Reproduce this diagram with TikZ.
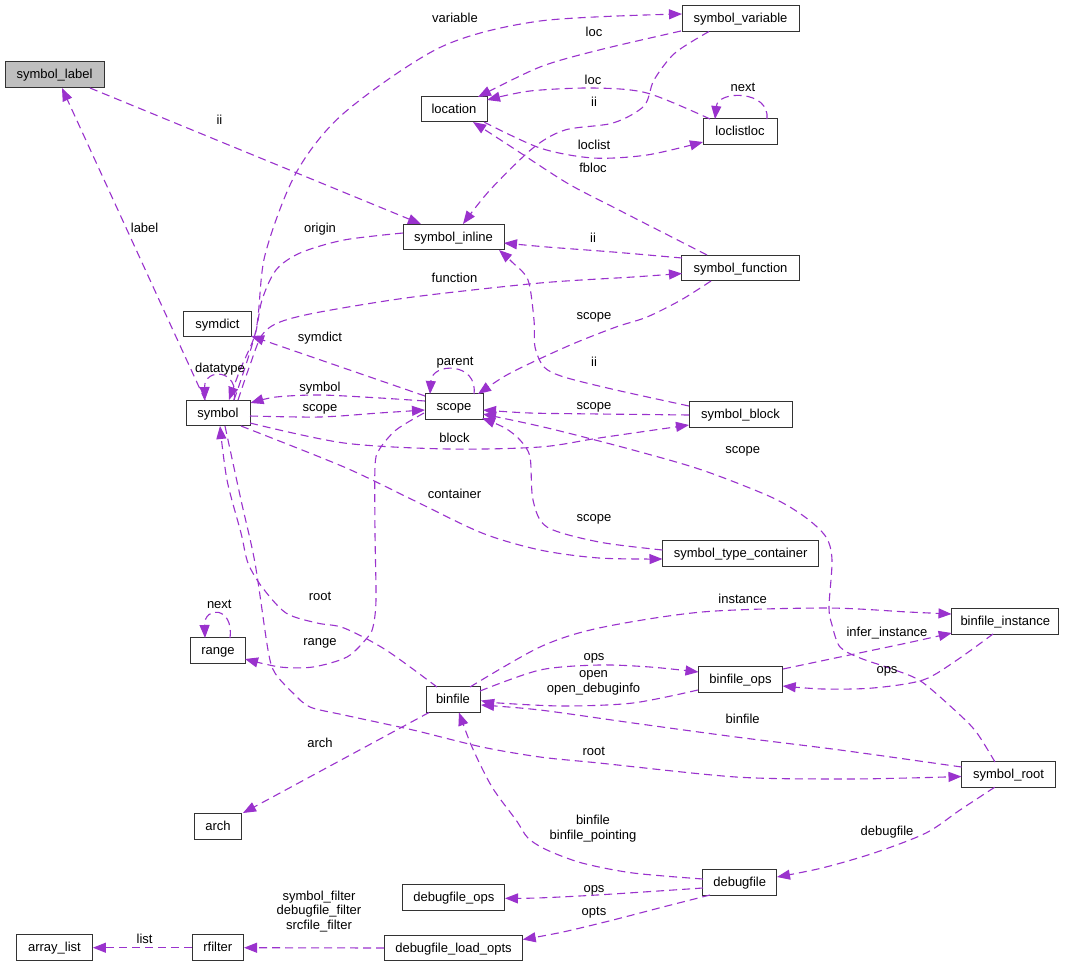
\documentclass[tikz,border=0pt]{standalone}
\usepackage{fontspec}
\setmainfont{Liberation Sans}
\usetikzlibrary{arrows.meta,calc}
\definecolor{orchid}{HTML}{9A32CD}
\definecolor{greyfill}{HTML}{BFBFBF}
\newcommand{\diagfont}{\fontsize{13}{14.5}\selectfont}
\tikzset{
  cls/.style={draw=black!80, line width=1pt, fill=white, minimum height=25.6pt,
    inner sep=0pt, text height=10.7pt, text depth=2.7pt, font=\diagfont},
  edge/.style={draw=orchid, line width=1.1pt, dash pattern=on 8pt off 5pt,
    -{Triangle[length=13pt,width=10pt]}},
  lbl/.style={inner sep=0pt, text height=10.7pt, text depth=2.7pt, font=\diagfont, align=center},
}
\begin{document}
\begin{tikzpicture}[x=1pt,y=-1pt]
\useasboundingbox (0,0) rectangle (1069,967);
\fill[white] (0,0) rectangle (1069,967);

% nodes
\node[cls, fill=greyfill, minimum width=99pt] (symLabel) at (54.5,74.5) {symbol\_label};
\node[cls, minimum width=117pt] (symVariable) at (740.5,18.5) {symbol\_variable};
\node[cls, minimum width=66pt] (location) at (454,109) {location};
\node[cls, minimum width=74pt] (loclistloc) at (740,131.5) {loclistloc};
\node[cls, minimum width=101pt] (symInline) at (453.5,237) {symbol\_inline};
\node[cls, minimum width=117.6pt] (symFunction) at (740.5,268) {symbol\_function};
\node[cls, minimum width=68pt] (symdict) at (217.5,324) {symdict};
\node[cls, minimum width=64pt] (symbol) at (218,413) {symbol};
\node[cls, minimum width=58pt] (scope) at (454,406.7) {scope};
\node[cls, minimum width=103pt] (symBlock) at (740.5,414.3) {symbol\_block};
\node[cls, minimum width=156.5pt] (symTypeContainer) at (740.7,553.3) {symbol\_type\_container};
\node[cls, minimum width=107pt] (binfileInstance) at (1005.3,621.3) {binfile\_instance};
\node[cls, minimum width=54.6pt] (range) at (218,650.5) {range};
\node[cls, minimum width=54pt] (binfile) at (453,699.7) {binfile};
\node[cls, minimum width=84pt] (binfileOps) at (740.5,679.7) {binfile\_ops};
\node[cls, minimum width=94pt] (symRoot) at (1008.5,774.5) {symbol\_root};
\node[cls, minimum width=47pt] (arch) at (218,826.5) {arch};
\node[cls, minimum width=74pt] (debugfile) at (739.7,882.5) {debugfile};
\node[cls, minimum width=102pt] (debugfileOps) at (453.8,897.2) {debugfile\_ops};
\node[cls, minimum width=138pt] (debugfileLoadOpts) at (453.5,948) {debugfile\_load\_opts};
\node[cls, minimum width=51.5pt] (rfilter) at (217.8,947.7) {rfilter};
\node[cls, minimum width=76pt] (arrayList) at (54.4,947.7) {array\_list};

% edges
\draw[edge] ($(symLabel)+(35.5,13.5)$) -- ($(symInline)+(-32.5,-13)$);
\draw[edge] ($(symbol)+(-13,-13)$) -- ($(symLabel)+(7.5,13.5)$);
\draw[edge] plot[smooth] coordinates {($(symbol)+(16,-13)$) (256,330) (265,255) (296,173) (344,113) (441,47) (540,21) ($(symVariable)+(-58.5,-4.5)$)};
\draw[edge] plot[smooth] coordinates {($(symVariable)+(-59.5,12.5)$) (599,50) (540,67) ($(location)+(24,-12)$)};
\draw[edge] plot[smooth] coordinates {($(loclistloc)+(-30,-12.5)$) (647,93) (593,88) (530,91) ($(location)+(33,-9)$)};
\draw[edge] ($(loclistloc)+(27,-12.5)$) .. controls (770,90) and (718,90) .. ($(loclistloc)+(-25,-12.5)$);
\draw[edge] plot[smooth] coordinates {($(symVariable)+(-31.5,13)$) (675,53) (654,80) (644,106) (613,123) (565,130) (533,148) (490,190) ($(symInline)+(9.5,-13)$)};
\draw[edge] plot[smooth] coordinates {($(location)+(30,13)$) (540,148) (593,158) (647,155) ($(loclistloc)+(-37,10.5)$)};
\draw[edge] plot[smooth] coordinates {($(symFunction)+(-33.5,-13)$) (613,207) (567,183) (513,148) ($(location)+(19,13)$)};
\draw[edge] plot[smooth] coordinates {($(symFunction)+(-58.5,-10)$) (613,252) (547,247) ($(symInline)+(50.5,6)$)};
\draw[edge] plot[smooth] coordinates {($(symInline)+(-50.5,-4)$) (344,240) (300,253) (276,270) (262,300) (255,335) (240,370) ($(symbol)+(11,-13)$)};
\draw[edge] plot[smooth] coordinates {($(symbol)+(20,-13)$) (250,365) (262,335) (280,322) (320,312) (413,297) (540,283) (633,277) ($(symFunction)+(-58.5,5.5)$)};
\draw[edge] ($(scope)+(-29,-10.7)$) -- ($(symdict)+(33.5,12)$);
\draw[edge] ($(scope)+(20,-12.7)$) .. controls (478,362) and (432,362) .. ($(scope)+(-24,-12.7)$);
\draw[edge] plot[smooth] coordinates {($(symFunction)+(-29.5,13)$) (681,300) (647,317) (616,327) (575,343) (535,361) (505,376) ($(scope)+(24,-12.7)$)};
\draw[edge] plot[smooth] coordinates {($(symBlock)+(-51.5,-8.3)$) (616,390) (564,377) (544,367) (535,347) (534,320) (528,280) (512,262) ($(symInline)+(45.5,13)$)};
\draw[edge] ($(symbol)+(16,-13)$) .. controls (240,368) and (204,368) .. ($(symbol)+(-13,-13)$);
\draw[edge] plot[smooth] coordinates {($(scope)+(-29,-5.7)$) (380,398) (320,395) (276,397) ($(symbol)+(32.5,-10)$)};
\draw[edge] plot[smooth] coordinates {($(symbol)+(32,3)$) (320,417) (379,413) ($(scope)+(-29,3.3)$)};
\draw[edge] plot[smooth] coordinates {($(symBlock)+(-51.5,0.7)$) (600,414) (530,413) ($(scope)+(29,3.3)$)};
\draw[edge] plot[smooth] coordinates {($(symbol)+(32,10)$) (344,443) (448,449) (540,447) (599,438) ($(symBlock)+(-51.5,10.7)$)};
\draw[edge] plot[smooth] coordinates {($(symRoot)+(-13.5,-12.5)$) (977,733) (960,715) (922,682) (895,670) (860,658) (840,647) (832,625) (829,607) (832,560) (826,537) (805,517) (771,497) (702,470) (633,450) (564,432) (530,424) ($(scope)+(29,7.3)$)};
\draw[edge] plot[smooth] coordinates {($(symTypeContainer)+(-78.2,-3.3)$) (599,542) (547,527) (533,500) (530,457) (520,440) (505,428) ($(scope)+(28,11.3)$)};
\draw[edge] plot[smooth] coordinates {($(symbol)+(23,13)$) (344,467) (413,500) (482,533) (540,550) (599,558) ($(symTypeContainer)+(-78.2,5.7)$)};
\draw[edge] plot[smooth] coordinates {($(binfile)+(17,-12.7)$) (540,647) (599,628) (702,612) (826,608) (908,612) ($(binfileInstance)+(-53.8,-7.3)$)};
\draw[edge] plot[smooth] coordinates {($(binfile)+(-16,-12.7)$) (386,650) (344,628) (317,623) (286,613) (262,587) (248,563) (241,533) (227,480) ($(symbol)+(2,13)$)};
\draw[edge] plot[smooth] coordinates {($(symbol)+(7,13)$) (241,500) (255,563) (268,650) (275,673) (293,693) (310,707) (344,715) (413,730) (482,747) (540,757) (599,763) (736,777) (840,779) (908,778) ($(symRoot)+(-47,2)$)};
\draw[edge] plot[smooth] coordinates {($(scope)+(-30,6.3)$) (396,430) (379,450) (375,467) (375,533) (376,600) (373,627) (367,638) (347,657) (313,667) (280,667) ($(range)+(27,8.5)$)};
\draw[edge] ($(range)+(12,-12.5)$) .. controls (234,606) and (204,606) .. ($(range)+(-13,-12.5)$);
\draw[edge] plot[smooth] coordinates {($(binfile)+(27,-8.7)$) (540,670) (599,665) (650,667) ($(binfileOps)+(-42,-7.7)$)};
\draw[edge] plot[smooth] coordinates {($(binfileOps)+(-42.5,10.3)$) (633,703) (564,706) (499,703) ($(binfile)+(28,0.8)$)};
\draw[edge] plot[smooth] coordinates {($(symRoot)+(-47,-7.5)$) (840,750) (736,737) (633,723) (540,710) ($(binfile)+(28,5.3)$)};
\draw[edge] plot[smooth] coordinates {($(binfileOps)+(42.5,-10.7)$) (840,657) (907,643) ($(binfileInstance)+(-53.6,11.7)$)};
\draw[edge] plot[smooth] coordinates {($(binfileInstance)+(-12.3,12.7)$) (957,660) (923,680) (873,688) (823,689) ($(binfileOps)+(42.2,6.3)$)};
\draw[edge] plot[smooth] coordinates {($(symRoot)+(-13.9,12.8)$) (960,810) (926,833) (874,853) (822,868) ($(debugfile)+(37.3,-5.5)$)};
\draw[edge] plot[smooth] coordinates {($(debugfile)+(-36.7,-3.5)$) (633,873) (582,863) (547,850) (528,838) (516,820) (492,787) (472,747) ($(binfile)+(6,12.8)$)};
\draw[edge] plot[smooth] coordinates {($(debugfile)+(-36.7,5.5)$) (597,895) (537,898) ($(debugfileOps)+(51.2,1.1)$)};
\draw[edge] plot[smooth] coordinates {($(debugfile)+(-29.7,12.5)$) (663,907) (613,920) (563,932) ($(debugfileLoadOpts)+(69.2,-8.5)$)};
\draw[edge] (debugfileLoadOpts.west) -- (rfilter.east);
\draw[edge] (rfilter.west) -- (arrayList.east);
\draw[edge] ($(binfile)+(-24,12.8)$) -- ($(arch)+(25,-13.5)$);

% labels
\node[lbl] (l1) at (455,18) {variable};
\node[lbl] (l2) at (594,32) {loc};
\node[lbl] (l3) at (593,80) {loc};
\node[lbl] (l4) at (743,87) {next};
\node[lbl] (l5) at (594,102) {ii};
\node[lbl] (l6) at (594,145) {loclist};
\node[lbl] (l7) at (593,168) {fbloc};
\node[lbl] (l8) at (219.5,120) {ii};
\node[lbl] (l9) at (144.6,228) {label};
\node[lbl] (l10) at (320,228) {origin};
\node[lbl] (l11) at (593,238) {ii};
\node[lbl] (l12) at (454.5,278) {function};
\node[lbl] (l13) at (594,315) {scope};
\node[lbl] (l14) at (320,337) {symdict};
\node[lbl] (l15) at (455,361) {parent};
\node[lbl] (l16) at (220,368) {datatype};
\node[lbl] (l17) at (594,362) {ii};
\node[lbl] (l18) at (320,387) {symbol};
\node[lbl] (l19) at (320,407) {scope};
\node[lbl] (l20) at (594,405) {scope};
\node[lbl] (l21) at (454.5,438) {block};
\node[lbl] (l22) at (742.7,449) {scope};
\node[lbl] (l23) at (454.5,494) {container};
\node[lbl] (l24) at (594,517) {scope};
\node[lbl] (l25) at (742.7,599) {instance};
\node[lbl] (l26) at (320,596) {root};
\node[lbl] (l27) at (219.3,604) {next};
\node[lbl] (l28) at (887,632) {infer\_instance};
\node[lbl] (l29) at (320,641) {range};
\node[lbl] (l30) at (594,656) {ops};
\node[lbl] (l31) at (887,669) {ops};
\node[lbl] (l32) at (593.5,688.4) {open\\open\_debuginfo};
\node[lbl] (l33) at (742.7,719) {binfile};
\node[lbl] (l34) at (320,743) {arch};
\node[lbl] (l35) at (593.7,751) {root};
\node[lbl] (l36) at (593,835) {binfile\\binfile\_pointing};
\node[lbl] (l37) at (887,831) {debugfile};
\node[lbl] (l38) at (594,888) {ops};
\node[lbl] (l39) at (594,911) {opts};
\node[lbl] (l40) at (319,925) {symbol\_filter\\debugfile\_filter\\srcfile\_filter};
\node[lbl] (l41) at (144.6,939) {list};
\end{tikzpicture}
\end{document}
